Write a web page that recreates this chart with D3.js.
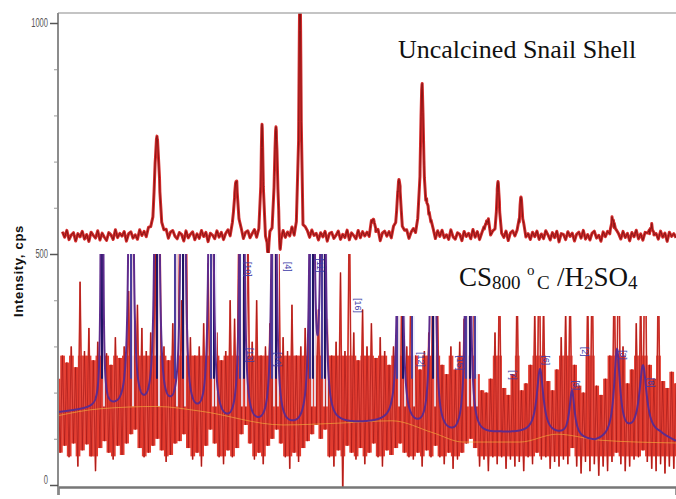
<!DOCTYPE html>
<html><head><meta charset="utf-8">
<script src="https://cdn.jsdelivr.net/npm/d3@7"></script>
<style>html,body{margin:0;padding:0;background:#fff;} svg{display:block;}</style>
</head><body>
<svg id="c" width="676" height="499"></svg>
<script>
// ---------- data ----------
const yTicksMajor = [0, 500, 1000];
const yTicksMinor = [100, 200, 300, 400, 600, 700, 800, 900];
const gridStart = 10, gridStep = 0.25;   // 2θ sampling of the scans
const topStartDeg = 10.5;
const topBaseline = 539;
// uncalcined snail shell: baseline noise (cps, one per 0.25°)
const topNoise = [
 4,-6,9,-3,12,-8,2,7,-11,5,-2,10,-7,3,-12,8,1,-5,11,-9,
 6,-3,-10,7,2,-8,13,-4,5,-1,9,-12,4,8,-6,1,-9,11,-2,6,
 -7,10,3,-11,8,-4,12,-6,0,7,-10,5,9,-3,-8,6,2,-12,10,-5,
 3,8,-9,4,-6,11,-2,7,-13,5,1,-7,10,-4,6,-10,3,9,-8,2,
 -5,12,-3,6,-11,4,8,-7,2,10,-9,1,-4,7,-12,9,5,-6,3,-10,
 11,-2,6,-8,4,-5,13,-9,7,-3,2,-11,8,5,-7,10,-1,4,-10,6,
 -3,9,-12,5,7,-6,1,10,-8,3,-4,12,-9,6,0,-7,11,-5,8,-2,
 5,-10,7,2,-6,9,-13,4,8,-3,6,-9,12,-1,-5,10,-8,3,7,-11,
 2,8,-5,11,-7,4,-2,9,-10,6,3,-12,7,-4,10,-6,1,-9,12,-3,
 -8,6,3,-11,9,-2,5,-7,13,-4,8,-10,2,7,-5,11,-9,4,-1,6,
 10,-4,-7,8,-12,5,9,-3,6,-10,1,12,-6,3,-9,7,-2,10,-8,4,
 -6,11,2,-9,7,-4,10,-13,5,3,-8,9,-1,6,-11,4,8,-5,12,-7,
 3,-9,6,10,-5,1,-12,8,-3,7,-6,11,-10,4,2,-8,9,-4,5,-11,
 7,-2,12,-7,4,-10,6,1,-9,11,-5,3,-8,10,-3,6,-12,8,-1,5,
 -4
];
// [2θ, height above baseline, half width]
const topPeaks = [
 [21.21,216,0.30],[30.16,117,0.26],[33.11,240,0.13],[34.69,236,0.20],
 [37.41,560,0.13],[45.68,35,0.28],[48.62,121,0.24],[51.23,318,0.20],
 [51.85,55,0.35],[58.59,32,0.28],[59.84,117,0.17],[62.44,84,0.18],
 [72.86,35,0.26],[77.16,17,0.3],[33.79,-55,0.10],[35.15,-50,0.10]
];
// CS800 °C / H2SO4 raw scan (cps, one per 0.25°)
const cs800 = [
 230,70,280,85,265,60,300,90,255,40,
 440,75,290,88,340,62,270,30,310,80,
 360,95,285,70,260,55,320,85,275,65,
 300,90,420,110,650,120,390,80,340,60,
 290,70,330,85,560,100,700,75,300,50,
 270,65,350,90,600,95,400,110,680,80,
 320,55,280,70,300,40,350,85,480,120,
 650,90,330,60,270,45,290,75,400,60,
 360,80,620,110,450,130,590,90,310,55,
 400,70,280,45,300,85,350,100,650,120,
 560,90,320,60,290,35,390,70,280,50,
 300,80,340,95,420,110,700,130,380,100,
 640,120,360,60,280,40,310,75,460,-20,
 290,85,620,70,330,55,270,80,380,45,
 300,70,350,90,275,60,320,40,290,75,
 260,65,300,80,450,90,560,70,300,60,
 520,55,280,70,250,40,290,75,330,60,
 600,85,380,60,260,45,240,70,300,35,
 250,55,310,70,360,90,580,100,620,80,
 240,40,205,55,200,30,230,60,330,45,
 480,60,210,35,195,55,240,40,450,50,
 205,30,220,60,260,45,380,70,560,55,
 400,60,225,35,205,50,250,40,320,55,
 380,45,450,80,260,40,215,25,200,50,
 420,30,500,45,215,20,195,40,230,30,
 280,50,480,70,600,45,300,30,220,40,
 250,55,350,60,420,75,640,50,260,35,
 230,30,480,45,225,25,210,40,245,35,
 220
];
// fitted profile: baseline knots [2θ, cps] and peaks [2θ, height, hwhm]
const fitBase = [[10,156],[14.76,165],[19.29,155],[22.69,150],[26.08,138],[29.48,122],[32.88,118],
 [37.41,116],[41.94,128],[47.83,134],[51.0,116],[54.97,100],[60.06,110],[63.46,110],
 [66.86,104],[70.83,90],[74.79,104],[78.18,106],[80,92]];
const fitPeaks = [
 [14.98,4000,0.05],[18.27,4000,0.1],[21.21,4000,0.1],[24.16,4000,0.1],[27.33,4000,0.1],
 [30.84,4000,0.1],[34.47,4000,0.1],[38.77,4000,0.1],[40.02,4000,0.1],[48.74,4000,0.1],
 [52.48,4000,0.1],[56.44,4000,0.1],[64.6,140,0.45],[68.22,100,0.35],[73.32,190,0.4],[76.26,150,0.5]
];
const bgCurve = [[10,150],[14.76,165],[21.21,170],[26.08,160],[35.49,130],[41.94,134],[47.83,139],
 [52.48,113],[55.87,93],[62.33,93],[66.52,110],[71.39,97],[80,91]];
const refLines = [14.98,18.27,21.21,23.25,24.16,27.33,27.67,30.61,31.07,34.24,34.69,38.54,38.88,
 39.90,40.24,48.40,49.08,50.10,52.48,56.21,56.67,57.23];
const peakLabels = [[31.18,483,"[10]"],[35.71,483,"[4]"],[39.34,491,"[11]"],[43.64,405,"[16]"],
 [31.41,297,"[13]"],[34.58,288,"[14]"],[50.78,288,"[12]"],[55.19,281,"[15]"],[61.2,249,"[7]"],
 [64.94,281,"[6]"],[68.33,227,"[5]"],[69.35,299,"[2]"],[73.66,292,"[3]"],[76.83,232,"[8]"]];

// ---------- scales ----------
const svg = d3.select("#c");
const x = d3.scaleLinear().domain([10, 80]).range([58, 676]);
const y = d3.scaleLinear().domain([0, 1000]).range([485, 23]);

const defs = svg.append("defs");
defs.append("clipPath").attr("id","clipTop").append("rect")
  .attr("x",58).attr("y",13).attr("width",618).attr("height",240);
defs.append("clipPath").attr("id","clipBot").append("path")
  .attr("d","M58,254H390V316H676V487H58Z");

function pv(xx, c, h, w){
  const t = (xx-c)/w;
  return h*(0.45/(1+t*t) + 0.55*Math.exp(-0.6931*t*t));
}
function lor(xx, c, h, w){ const t=(xx-c)/w; return h/(1+t*t); }

// ---------- top scan ----------
let topPts = [];
topNoise.forEach((n,i)=>{
  const d = gridStart + i*gridStep;
  if (d >= topStartDeg) topPts.push([d, n]);
});
topPeaks.forEach(p=>{
  [-1.1,-0.55,-0.2,0,0.2,0.55,1.1].forEach(k=>topPts.push([p[0]+k*p[2], 0]));
});
topPts.sort((a,b)=>a[0]-b[0]);
const topVals = topPts.map(([d,n])=>[d, topBaseline + n + d3.sum(topPeaks, p=>pv(d,p[0],p[1],p[2]))]);
const line = d3.line().x(d=>x(d[0])).y(d=>y(d[1]));

const gTop = svg.append("g").attr("clip-path","url(#clipTop)");
gTop.append("path").attr("d", line(topVals)).attr("fill","none")
  .attr("stroke","#d42c2c").attr("stroke-width",3).attr("stroke-linejoin","round");
gTop.append("path").attr("d", line(topVals)).attr("fill","none")
  .attr("stroke","#8a1515").attr("stroke-width",1).attr("stroke-linejoin","round");

// ---------- bottom scan ----------
const gBot = svg.append("g").attr("clip-path","url(#clipBot)");
const csPts = cs800.map((v,i)=>[gridStart + i*gridStep, v]);
// solid core between consecutive samples
const segs = csPts.slice(0,-1).map((p,i)=>{
  const q = csPts[i+1];
  return {x0:p[0], x1:q[0], lo:Math.min(p[1],q[1]), hi:Math.max(p[1],q[1])};
});
gBot.selectAll("rect.core").data(segs).join("rect").attr("class","core")
  .attr("x", d=>x(d.x0)).attr("width", d=>x(d.x1)-x(d.x0)+0.3)
  .attr("y", d=>y(Math.min(d.hi, 280)))
  .attr("height", d=>Math.max(0, y(Math.max(d.lo, 62)) - y(Math.min(d.hi, 280))))
  .attr("fill","#e33b2e");
gBot.append("path").attr("d", line(csPts)).attr("fill","none")
  .attr("stroke","#e8453a").attr("stroke-width",1.6);
gBot.append("path").attr("d", line(csPts)).attr("fill","none")
  .attr("stroke","#9a1212").attr("stroke-width",0.8).attr("stroke-opacity",0.75);

// light strips beside reference lines
gBot.selectAll("rect.strip").data(refLines).join("rect").attr("class","strip")
  .attr("x", d=>x(d)+1).attr("width",2)
  .attr("y", y(1100)).attr("height", d=>y(170)-y(1100))
  .attr("fill","#eef0fb").attr("opacity",0.85);

// background curve
gBot.append("path").attr("d", d3.line().x(d=>x(d[0])).y(d=>y(d[1])).curve(d3.curveMonotoneX)(bgCurve))
  .attr("fill","none").attr("stroke","#f2b23c").attr("stroke-width",0.9).attr("stroke-opacity",0.7);

// reference lines
gBot.selectAll("line.ref").data(refLines).join("line").attr("class","ref")
  .attr("x1", d=>x(d)).attr("x2", d=>x(d))
  .attr("y1", y(1100)).attr("y2", y(230))
  .attr("stroke", (d,i)=> i%2 ? "#4a3c9c" : "#1b1464").attr("stroke-width",2);

// fitted profile
const baseInterp = d3.scaleLinear().domain(fitBase.map(d=>d[0])).range(fitBase.map(d=>d[1]));
const fitPts = d3.range(10, 80.0001, 0.02).map(d=>[d, baseInterp(d) + d3.sum(fitPeaks, p=>lor(d,p[0],p[1],p[2]))]);
gBot.append("path").attr("d", d3.line().x(d=>x(d[0])).y(d=>Math.max(-200, y(d[1])))(fitPts))
  .attr("fill","none").attr("stroke","#5e2b8c").attr("stroke-width",2);

// peak labels
gBot.selectAll("text.pl").data(peakLabels).join("text").attr("class","pl")
  .attr("transform", d=>`translate(${x(d[0])},${y(d[1])}) rotate(90)`)
  .attr("font-family","Liberation Sans, Arial, sans-serif").attr("font-size",9)
  .attr("fill","#3c3ca8").text(d=>d[2]);

// ---------- axes ----------
svg.append("line").attr("x1",58).attr("x2",676).attr("y1",13).attr("y2",13)
  .attr("stroke","#b0b0b0").attr("stroke-width",1.5);

const xAxis = svg.append("g").attr("transform","translate(0,487)")
  .call(d3.axisBottom(x).tickValues([10]).tickSize(8).tickFormat(""));
xAxis.select(".domain").attr("stroke","#777").attr("stroke-width",2.5);
xAxis.selectAll(".tick line").attr("stroke","#888").attr("stroke-width",1.5);

const yMinor = svg.append("g").attr("transform","translate(58,0)")
  .call(d3.axisLeft(y).tickValues(yTicksMinor).tickSize(4).tickFormat(""));
yMinor.select(".domain").remove();
yMinor.selectAll(".tick line").attr("stroke","#aaa").attr("stroke-width",1.2);

const yAxis = svg.append("g").attr("transform","translate(58,0)")
  .call(d3.axisLeft(y).tickValues(yTicksMajor).tickSize(8).tickPadding(2).tickFormat(d3.format("d")));
yAxis.select(".domain").attr("d","M0,13V487").attr("stroke","#8c8c8c").attr("stroke-width",2);
yAxis.selectAll(".tick line").attr("stroke","#555").attr("stroke-width",1.5);
yAxis.selectAll(".tick text")
  .attr("font-family","Liberation Sans Narrow, Liberation Sans, Arial, sans-serif")
  .attr("font-size",12).attr("fill","#555")
  .attr("textLength", d=>String(d).length*4.2).attr("lengthAdjust","spacingAndGlyphs")
  .attr("y", d=> d===0 ? -5 : 0);

svg.append("text").attr("transform","translate(23,271) rotate(-90)")
  .attr("text-anchor","middle").attr("font-family","Liberation Sans, Arial, sans-serif")
  .attr("font-weight","bold").attr("font-size",13).attr("letter-spacing",0.7)
  .attr("fill","#111").text("Intensity, cps");

// ---------- titles ----------
svg.append("text").attr("x",398).attr("y",58)
  .attr("font-family","Liberation Serif, Times New Roman, serif").attr("font-size",26)
  .attr("fill","#111").text("Uncalcined Snail Shell");

const t2 = svg.append("text").attr("x",459).attr("y",286)
  .attr("font-family","Liberation Serif, Times New Roman, serif").attr("font-size",27).attr("fill","#111");
t2.append("tspan").text("CS");
t2.append("tspan").attr("font-size",19).attr("dy",3).text("800");
t2.append("tspan").attr("font-size",15).attr("x",527).attr("y",275).text("o");
t2.append("tspan").attr("font-size",19).attr("x",537).attr("y",289).text("C");
t2.append("tspan").attr("x",557).attr("y",286).text("/H");
t2.append("tspan").attr("font-size",19).attr("dy",3).text("2");
t2.append("tspan").attr("dy",-3).text("SO");
t2.append("tspan").attr("font-size",19).attr("dy",3).text("4");
</script>
</body></html>
